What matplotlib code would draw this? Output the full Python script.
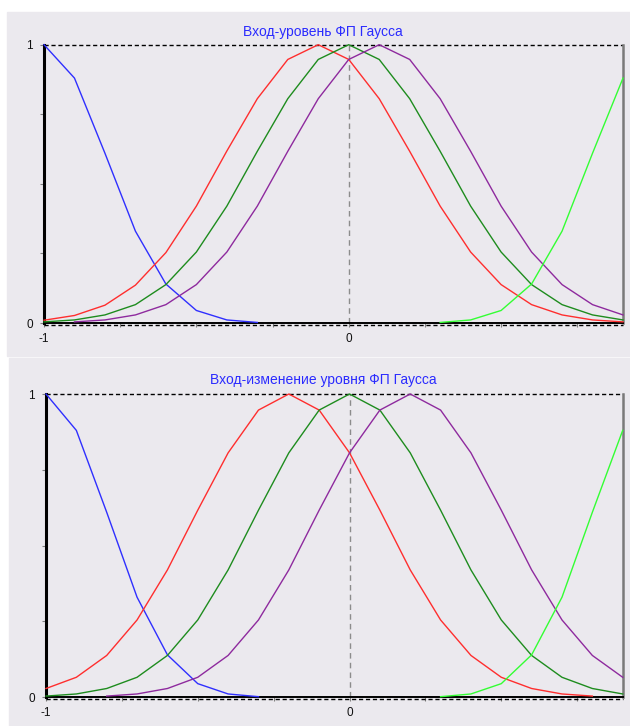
import matplotlib.pyplot as plt
import numpy as np
from matplotlib.patches import Rectangle
from matplotlib.transforms import offset_copy

plt.rcParams['font.family'] = ['Liberation Sans', 'DejaVu Sans']

# input grid (values every 0.1)
x = [-1.0, -0.9, -0.8, -0.7, -0.6, -0.5, -0.4, -0.3, -0.2, -0.1,
     0.0, 0.1, 0.2, 0.3, 0.4, 0.5, 0.6, 0.7, 0.8, 0.9]
nan = np.nan

# top panel: "Вход-уровень"
top_blue = [1.0, 0.88, 0.61, 0.33, 0.14, 0.045, 0.011, 0.002] + [nan] * 12
top_red = [0.010, 0.027, 0.064, 0.136, 0.253, 0.42, 0.618, 0.806, 0.947, 1.0,
           0.947, 0.806, 0.617, 0.42, 0.255, 0.138, 0.066, 0.029, 0.011, 0.004]
top_green = [0.004, 0.011, 0.029, 0.066, 0.138, 0.255, 0.42, 0.617, 0.806, 0.947,
             1.0, 0.947, 0.806, 0.617, 0.42, 0.255, 0.138, 0.066, 0.029, 0.011]
top_purple = [nan, 0.004, 0.011, 0.029, 0.066, 0.138, 0.255, 0.42, 0.617, 0.806,
              0.947, 1.0, 0.947, 0.806, 0.617, 0.42, 0.255, 0.138, 0.066, 0.029]
top_lime = [nan] * 13 + [0.002, 0.011, 0.045, 0.14, 0.33, 0.61, 0.88]

# bottom panel: "Вход-изменение уровня"
bot_blue = [1.0, 0.88, 0.61, 0.33, 0.14, 0.045, 0.011, 0.002] + [nan] * 12
bot_red = [0.029, 0.066, 0.138, 0.255, 0.42, 0.617, 0.806, 0.947, 1.0, 0.947,
           0.806, 0.617, 0.42, 0.255, 0.138, 0.066, 0.029, 0.011, 0.004, nan]
bot_green = [0.004, 0.011, 0.029, 0.066, 0.138, 0.255, 0.42, 0.617, 0.806, 0.947,
             1.0, 0.947, 0.806, 0.617, 0.42, 0.255, 0.138, 0.066, 0.029, 0.011]
bot_purple = [nan, nan, 0.004, 0.011, 0.029, 0.066, 0.138, 0.255, 0.42, 0.617,
              0.806, 0.947, 1.0, 0.947, 0.806, 0.617, 0.42, 0.255, 0.138, 0.066]
bot_lime = [nan] * 13 + [0.002, 0.011, 0.045, 0.14, 0.33, 0.61, 0.88]

titles = ['Вход-уровень ФП Гаусса', 'Вход-изменение уровня ФП Гаусса']
colors = ['#2f2fff', '#ff2e2e', '#1e8c1e', '#8e2a9e', '#33ff33']
xticks = [-1, -0.75, -0.5, -0.25, 0, 0.25, 0.5, 0.75]
xticklabels = ['-1', '', '', '', '0', '', '', '']
yticks = [0, 0.25, 0.5, 0.75, 1]
yticklabels = ['0', '', '', '', '1']

W, H = 630, 726
fig = plt.figure(figsize=(W / 100, H / 100), dpi=100)
bg = '#ebe9ee'
fig.patches.append(Rectangle((7 / W, 1 - 356 / H), 623 / W, 344 / H,
                             transform=fig.transFigure, color=bg, zorder=-5))
fig.patches.append(Rectangle((9 / W, 0), 621 / W, 1 - 358 / H,
                             transform=fig.transFigure, color=bg, zorder=-5))


def panel(rect, curves, title, title_y):
    ax = fig.add_axes(rect)
    ax.set_facecolor('none')
    for ys, c in zip(curves, colors):
        ax.plot(x, ys, color=c, lw=1, clip_on=False, zorder=3)
    ax.set_xlim(-1, 0.9)
    ax.set_ylim(0, 1)
    ax.spines['top'].set_visible(False)
    ax.spines['left'].set_color('black')
    ax.spines['left'].set_linewidth(2.2)
    ax.spines['right'].set_color('#7a7a7a')
    ax.spines['right'].set_linewidth(1.8)
    ax.spines['bottom'].set_color('black')
    ax.spines['bottom'].set_linewidth(1.4)
    ax.axhline(1, color='black', lw=1, ls=(0, (3, 2)), clip_on=False, zorder=2)
    tr = offset_copy(ax.transData, fig=fig, x=0, y=-1.5, units='dots')
    ax.plot([-1, 0.9], [0, 0], color='black', lw=1, ls=(0, (3, 2)),
            transform=tr, clip_on=False, zorder=2)
    ax.axvline(0, color='#8c8c8c', lw=1, ls=(0, (4, 3)), zorder=1)
    ax.set_xticks(xticks)
    ax.set_xticklabels(xticklabels)
    ax.set_yticks(yticks)
    ax.set_yticklabels(yticklabels)
    ax.tick_params(axis='both', length=3, width=0.8, color='#808080',
                   labelsize=8.5, labelcolor='#111111')
    ax.tick_params(axis='x', pad=4)
    ax.tick_params(axis='y', pad=5)
    fig.text(323 / W, 1 - title_y / H, title, ha='center', va='center',
             color='#2b2bff', fontsize=10)
    return ax


panel([44 / W, 1 - 323 / H, (623 - 44) / W, (323 - 44.7) / H],
      [top_blue, top_red, top_green, top_purple, top_lime], titles[0], 32)
panel([46 / W, 1 - 697.3 / H, (622.7 - 46) / W, (697.3 - 394) / H],
      [bot_blue, bot_red, bot_green, bot_purple, bot_lime], titles[1], 380)

fig.savefig('out.png', dpi=100)
